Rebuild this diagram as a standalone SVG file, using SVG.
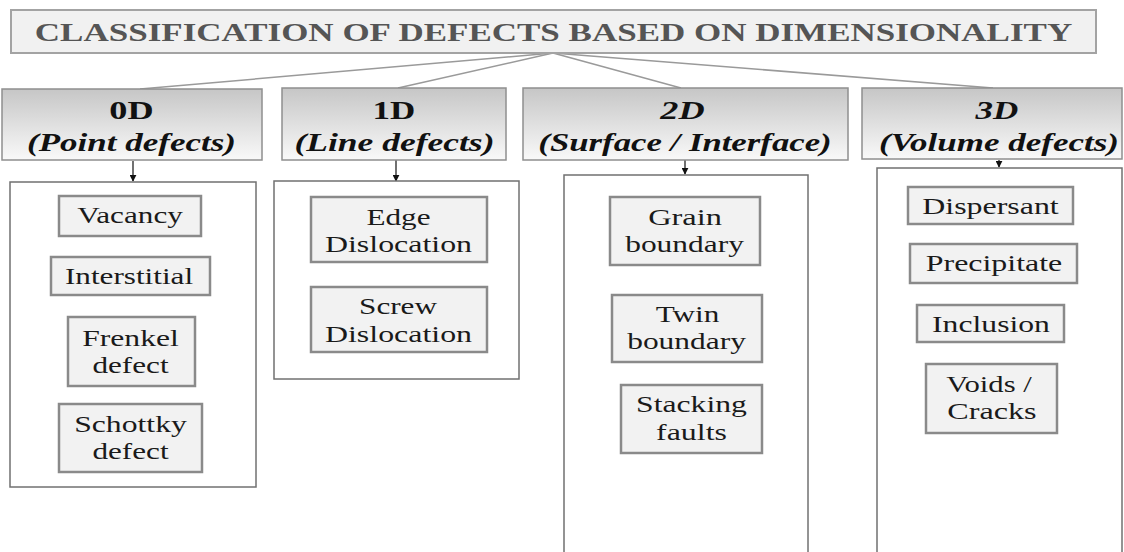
<svg xmlns="http://www.w3.org/2000/svg" width="1124" height="552" viewBox="0 0 1124 552">
<defs>
<linearGradient id="hg" x1="0" y1="0" x2="0" y2="1">
<stop offset="0" stop-color="#c6c6c6"/>
<stop offset="1" stop-color="#f9f9f9"/>
</linearGradient>
<marker id="ah" viewBox="0 0 10 10" refX="9" refY="5" markerWidth="7" markerHeight="7" markerUnits="userSpaceOnUse" orient="auto">
<path d="M0,0 L10,5 L0,10 z" fill="#111"/>
</marker>
<style>
.title{fill:#f1f1f1;stroke:#a3a3a3;stroke-width:2}
.head{fill:url(#hg);stroke:#8f8f8f;stroke-width:1.5}
.cont{fill:#fff;stroke:#707070;stroke-width:1.5}
.item{fill:#f2f2f2;stroke:#8a8a8a;stroke-width:2.5}
.link{stroke:#9a9a9a;stroke-width:1.5;fill:none}
.arr{stroke:#111;stroke-width:1.2;fill:none}
</style>
</defs>
<rect width="1124" height="552" fill="#fff"/>

<g id="connectors">
<line class="link" x1="553" y1="53" x2="140" y2="89"/>
<line class="link" x1="553" y1="53" x2="398" y2="88"/>
<line class="link" x1="553" y1="53" x2="681" y2="88"/>
<line class="link" x1="553" y1="53" x2="993" y2="88"/>
<line class="arr" x1="133" y1="161" x2="133" y2="181" marker-end="url(#ah)"/>
<line class="arr" x1="396" y1="160" x2="396" y2="181" marker-end="url(#ah)"/>
<line class="arr" x1="685" y1="160" x2="685" y2="174" marker-end="url(#ah)"/>
<line class="arr" x1="999" y1="160" x2="999" y2="167" marker-end="url(#ah)"/>
</g>

<g id="title">
<rect class="title" x="11" y="10" width="1085" height="43"/>
<text font-family="Liberation Serif" font-weight="bold" font-size="25" fill="#555" text-anchor="middle" transform="translate(553.5,41) scale(1.4,1)">CLASSIFICATION OF DEFECTS BASED ON DIMENSIONALITY</text>
</g>

<g id="h0">
<rect class="head" x="2" y="89" width="260" height="71"/>
<text font-family="Liberation Serif" font-weight="bold" font-size="25" fill="#111" text-anchor="middle" transform="translate(131.5,119) scale(1.45,1)">0D</text>
<text font-family="Liberation Serif" font-weight="bold" font-size="25" fill="#111" text-anchor="middle" font-style="italic" transform="translate(131.5,151) scale(1.4,1)">(Point defects)</text>
</g>
<g id="h1">
<rect class="head" x="282" y="88" width="224" height="72"/>
<text font-family="Liberation Serif" font-weight="bold" font-size="25" fill="#111" text-anchor="middle" transform="translate(394,119) scale(1.4,1)">1D</text>
<text font-family="Liberation Serif" font-weight="bold" font-size="25" fill="#111" text-anchor="middle" font-style="italic" transform="translate(394.5,151) scale(1.42,1)">(Line defects)</text>
</g>
<g id="h2">
<rect class="head" x="523" y="88" width="325" height="72"/>
<text font-family="Liberation Serif" font-weight="bold" font-size="25" fill="#111" text-anchor="middle" font-style="italic" transform="translate(682.5,119) scale(1.45,1)">2D</text>
<text font-family="Liberation Serif" font-weight="bold" font-size="25" fill="#111" text-anchor="middle" font-style="italic" transform="translate(685,151) scale(1.39,1)">(Surface / Interface)</text>
</g>
<g id="h3">
<rect class="head" x="862" y="88" width="260" height="71"/>
<text font-family="Liberation Serif" font-weight="bold" font-size="25" fill="#111" text-anchor="middle" font-style="italic" transform="translate(997,119) scale(1.4,1)">3D</text>
<text font-family="Liberation Serif" font-weight="bold" font-size="25" fill="#111" text-anchor="middle" font-style="italic" transform="translate(999,151) scale(1.4,1)">(Volume defects)</text>
</g>

<g id="c0"><rect class="cont" x="10" y="182" width="246" height="305"/></g>
<g id="c1"><rect class="cont" x="274" y="181" width="245" height="198"/></g>
<g id="c2"><rect class="cont" x="564" y="175" width="244" height="390"/></g>
<g id="c3"><rect class="cont" x="877" y="168" width="245" height="400"/></g>

<g id="vacancy">
<rect class="item" x="59" y="196" width="142" height="40"/>
<text font-family="Liberation Serif" font-size="24" fill="#1a1a1a" text-anchor="middle" transform="translate(130,223) scale(1.3,1)">Vacancy</text>
</g>
<g id="interstitial">
<rect class="item" x="51" y="257" width="159" height="38"/>
<text font-family="Liberation Serif" font-size="24" fill="#1a1a1a" text-anchor="middle" transform="translate(129,284) scale(1.3,1)">Interstitial</text>
</g>
<g id="frenkel">
<rect class="item" x="68" y="317" width="127" height="69"/>
<text font-family="Liberation Serif" font-size="24" fill="#1a1a1a" text-anchor="middle" transform="translate(130.5,346) scale(1.32,1)">Frenkel</text>
<text font-family="Liberation Serif" font-size="24" fill="#1a1a1a" text-anchor="middle" transform="translate(130.5,373) scale(1.3,1)">defect</text>
</g>
<g id="schottky">
<rect class="item" x="59" y="404" width="143" height="68"/>
<text font-family="Liberation Serif" font-size="24" fill="#1a1a1a" text-anchor="middle" transform="translate(130.5,432) scale(1.32,1)">Schottky</text>
<text font-family="Liberation Serif" font-size="24" fill="#1a1a1a" text-anchor="middle" transform="translate(130.5,459) scale(1.3,1)">defect</text>
</g>

<g id="edge">
<rect class="item" x="311" y="197" width="176" height="65"/>
<text font-family="Liberation Serif" font-size="24" fill="#1a1a1a" text-anchor="middle" transform="translate(398.5,225) scale(1.3,1)">Edge</text>
<text font-family="Liberation Serif" font-size="24" fill="#1a1a1a" text-anchor="middle" transform="translate(398.5,252) scale(1.33,1)">Dislocation</text>
</g>
<g id="screw">
<rect class="item" x="311" y="287" width="176" height="65"/>
<text font-family="Liberation Serif" font-size="24" fill="#1a1a1a" text-anchor="middle" transform="translate(398,314) scale(1.3,1)">Screw</text>
<text font-family="Liberation Serif" font-size="24" fill="#1a1a1a" text-anchor="middle" transform="translate(398.5,342) scale(1.33,1)">Dislocation</text>
</g>

<g id="grain">
<rect class="item" x="610" y="197" width="150" height="68"/>
<text font-family="Liberation Serif" font-size="24" fill="#1a1a1a" text-anchor="middle" transform="translate(685,225) scale(1.35,1)">Grain</text>
<text font-family="Liberation Serif" font-size="24" fill="#1a1a1a" text-anchor="middle" transform="translate(684.5,252) scale(1.31,1)">boundary</text>
</g>
<g id="twin">
<rect class="item" x="612" y="295" width="150" height="67"/>
<text font-family="Liberation Serif" font-size="24" fill="#1a1a1a" text-anchor="middle" transform="translate(687.5,322) scale(1.3,1)">Twin</text>
<text font-family="Liberation Serif" font-size="24" fill="#1a1a1a" text-anchor="middle" transform="translate(686.5,349) scale(1.31,1)">boundary</text>
</g>
<g id="stacking">
<rect class="item" x="621" y="385" width="141" height="68"/>
<text font-family="Liberation Serif" font-size="24" fill="#1a1a1a" text-anchor="middle" transform="translate(691.5,412) scale(1.32,1)">Stacking</text>
<text font-family="Liberation Serif" font-size="24" fill="#1a1a1a" text-anchor="middle" transform="translate(691.5,440) scale(1.33,1)">faults</text>
</g>

<g id="dispersant">
<rect class="item" x="908" y="187" width="165" height="37"/>
<text font-family="Liberation Serif" font-size="24" fill="#1a1a1a" text-anchor="middle" transform="translate(990.5,214) scale(1.33,1)">Dispersant</text>
</g>
<g id="precipitate">
<rect class="item" x="910" y="244" width="167" height="39"/>
<text font-family="Liberation Serif" font-size="24" fill="#1a1a1a" text-anchor="middle" transform="translate(994,271) scale(1.33,1)">Precipitate</text>
</g>
<g id="inclusion">
<rect class="item" x="917" y="305" width="147" height="37"/>
<text font-family="Liberation Serif" font-size="24" fill="#1a1a1a" text-anchor="middle" transform="translate(991,332) scale(1.32,1)">Inclusion</text>
</g>
<g id="voids">
<rect class="item" x="926" y="364" width="131" height="69"/>
<text font-family="Liberation Serif" font-size="24" fill="#1a1a1a" text-anchor="middle" transform="translate(989,392) scale(1.28,1)">Voids /</text>
<text font-family="Liberation Serif" font-size="24" fill="#1a1a1a" text-anchor="middle" transform="translate(992,419) scale(1.34,1)">Cracks</text>
</g>
</svg>
